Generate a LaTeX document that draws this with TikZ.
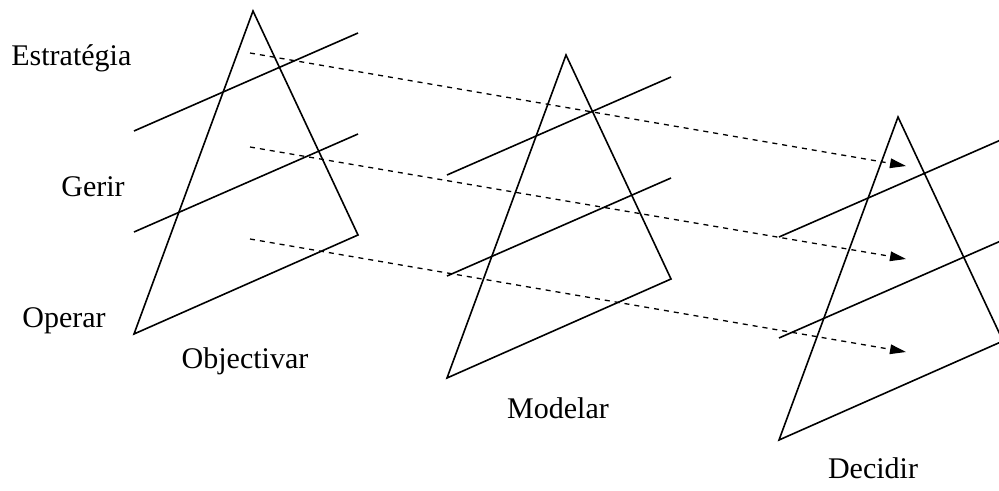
\documentclass[tikz,border=0pt]{standalone}
\usepackage{fontspec}
\setmainfont{Liberation Serif}
\usetikzlibrary{arrows.meta}
\begin{document}
\begin{tikzpicture}[x=0.5pt, y=-0.5pt, every node/.style={font=\fontsize{15}{18}\selectfont, inner sep=0pt}]
  \tikzstyle{edge}=[line width=0.8pt, line join=miter]
  \tikzstyle{flow}=[line width=0.65pt, dash pattern=on 2.5pt off 2.5pt, -{Triangle[length=8pt,width=4.8pt]}]
  \useasboundingbox (0,0) rectangle (999,491);
  % three pyramids, each cut by two planes parallel to its base
  \foreach \dx/\dy/\n in {0/0/a, 313/44/b, 645/106/c} {
    \coordinate (top\n) at (253+\dx, 11+\dy);
    \coordinate (bl\n) at (134+\dx, 334+\dy);
    \coordinate (br\n) at (358+\dx, 235+\dy);
    \coordinate (lo\n) at (134+\dx, 232+\dy);
    \coordinate (lor\n) at (358+\dx, 134+\dy);
    \coordinate (hi\n) at (134+\dx, 131+\dy);
    \coordinate (hir\n) at (358+\dx, 33+\dy);
    \draw[edge] (bl\n) -- (br\n) -- (top\n) -- cycle;
    \draw[edge] (lo\n) -- (lor\n);
    \draw[edge] (hi\n) -- (hir\n);
  }
  \node[anchor=base west] (estr) at (11,66) {Estratégia};
  \node[anchor=base west] (gerir) at (61,197) {Gerir};
  \node[anchor=base west] (oper) at (22,327) {Operar};
  \node[anchor=base] (obj) at (245,368) {Objectivar};
  \node[anchor=base] (mod) at (558,418) {Modelar};
  \node[anchor=base] (dec) at (873,478) {Decidir};
  \coordinate (s1) at (250,53);
  \coordinate (s2) at (250,147);
  \coordinate (s3) at (250,239);
  \coordinate (e1) at (906,166);
  \coordinate (e2) at (906,259);
  \coordinate (e3) at (906,352);
  \draw[flow] (s1) -- (e1);
  \draw[flow] (s2) -- (e2);
  \draw[flow] (s3) -- (e3);
\end{tikzpicture}
\end{document}
